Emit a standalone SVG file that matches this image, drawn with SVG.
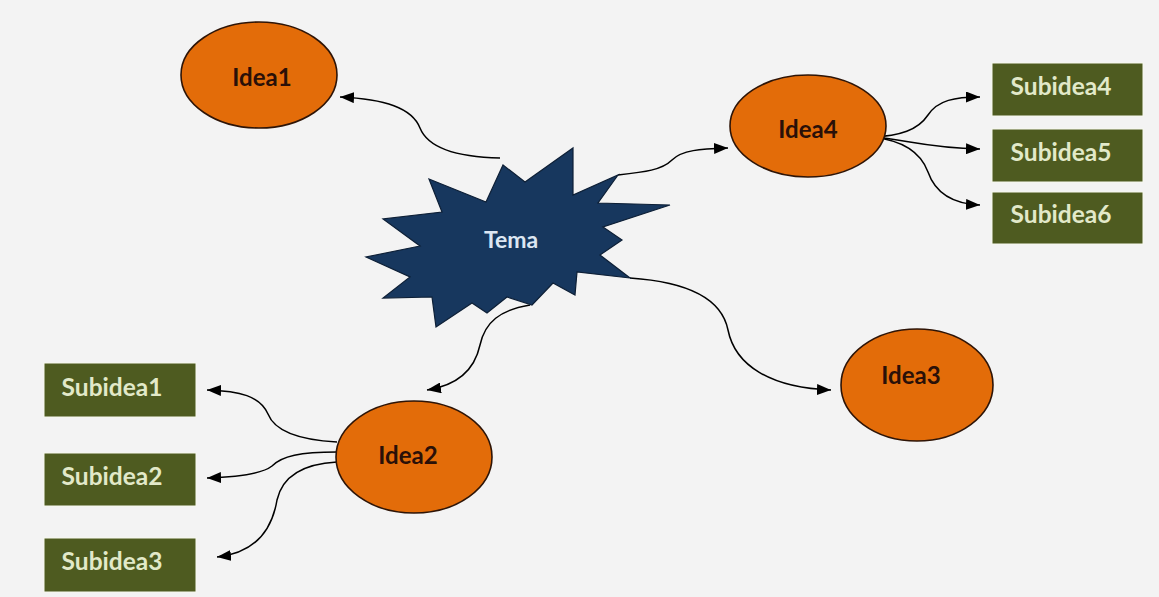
<svg xmlns="http://www.w3.org/2000/svg" width="1159" height="597" viewBox="0 0 1159 597">
  <defs>
    <marker id="arrow" viewBox="0 0 14 11" refX="14" refY="5.5" markerWidth="14" markerHeight="11" markerUnits="userSpaceOnUse" orient="auto">
      <path d="M0,0 L14,5.5 L0,11 z" fill="#000"/>
    </marker>
    <style>
      .idea { fill: #e36c09; stroke: #2e1406; stroke-width: 1.6; }
      .idea-label { font-family: Lato, "Liberation Sans", sans-serif; font-weight: bold; font-size: 24px; fill: #2a1008; text-anchor: middle; }
      .sub { fill: #4e5b20; stroke: #f7f9ee; stroke-width: 1; }
      .sub-label { font-family: Lato, "Liberation Sans", sans-serif; font-weight: bold; font-size: 24.5px; fill: #e2e9c9; text-anchor: middle; }
      .topic { fill: #17375e; stroke: #0d1f36; stroke-width: 1.2; stroke-linejoin: miter; }
      .topic-label { font-family: Lato, "Liberation Sans", sans-serif; font-weight: bold; font-size: 23px; fill: #dce6f2; text-anchor: middle; }
      .link { fill: none; stroke: #000; stroke-width: 1.5; marker-end: url(#arrow); }
    </style>
  </defs>

  <rect width="1159" height="597" fill="#f3f3f3"/>

  <!-- connectors -->
  <g id="connectors">
    <path class="link" d="M500,158 C455,157 428,148 420,128 C412,108 385,99 340,97"/>
    <path class="link" d="M618,175 C645,172 662,170 672,160 C682,150 700,149 728,148"/>
    <path class="link" d="M630,278 C690,282 722,300 728,330 C735,365 770,388 831,390"/>
    <path class="link" d="M530,305 C500,310 485,322 480,345 C475,368 460,385 427,390"/>
    <path class="link" d="M872,137 C900,136 918,130 928,115 C938,100 955,97 980,97"/>
    <path class="link" d="M872,137 C905,139 925,148 980,149"/>
    <path class="link" d="M872,137 C900,140 920,150 928,172 C936,195 955,204 980,205"/>
    <path class="link" d="M337,442 C300,440 275,432 268,414 C260,396 240,391 207,390"/>
    <path class="link" d="M337,452 C300,452 282,456 272,466 C262,474 240,477 207,478"/>
    <path class="link" d="M337,462 C300,464 282,478 277,500 C272,530 255,553 217,557"/>
  </g>

  <!-- central topic -->
  <g id="tema">
    <polygon class="topic" points="429,179 486,202 503,165 525,182 573,148 573,195 618,175 598,203 670,205 603,227 622,240 600,255 630,278 577,272 575,295 553,283 532,305 507,297 487,313 472,303 436,327 432,297 383,298 410,277 366,257 420,246 383,219 442,212"/>
    <text class="topic-label" x="511" y="248">Tema</text>
  </g>

  <!-- main ideas -->
  <g id="idea1">
    <ellipse class="idea" cx="259" cy="75" rx="78" ry="53"/>
    <text class="idea-label" x="262" y="86">Idea1</text>
  </g>
  <g id="idea2">
    <ellipse class="idea" cx="414" cy="457" rx="78" ry="56"/>
    <text class="idea-label" x="408" y="464">Idea2</text>
  </g>
  <g id="idea3">
    <ellipse class="idea" cx="917" cy="385" rx="76" ry="56"/>
    <text class="idea-label" x="911" y="384">Idea3</text>
  </g>
  <g id="idea4">
    <ellipse class="idea" cx="808" cy="126" rx="78" ry="51"/>
    <text class="idea-label" x="808" y="138">Idea4</text>
  </g>

  <!-- sub ideas -->
  <g id="subidea1">
    <rect class="sub" x="44" y="363" width="152" height="54"/>
    <text class="sub-label" x="112" y="396">Subidea1</text>
  </g>
  <g id="subidea2">
    <rect class="sub" x="44" y="453" width="152" height="53"/>
    <text class="sub-label" x="112" y="485">Subidea2</text>
  </g>
  <g id="subidea3">
    <rect class="sub" x="44" y="538" width="152" height="54"/>
    <text class="sub-label" x="112" y="570">Subidea3</text>
  </g>
  <g id="subidea4">
    <rect class="sub" x="992" y="63" width="151" height="53"/>
    <text class="sub-label" x="1061" y="95">Subidea4</text>
  </g>
  <g id="subidea5">
    <rect class="sub" x="992" y="129" width="151" height="53"/>
    <text class="sub-label" x="1061" y="161">Subidea5</text>
  </g>
  <g id="subidea6">
    <rect class="sub" x="992" y="192" width="151" height="52"/>
    <text class="sub-label" x="1061" y="223">Subidea6</text>
  </g>
</svg>
